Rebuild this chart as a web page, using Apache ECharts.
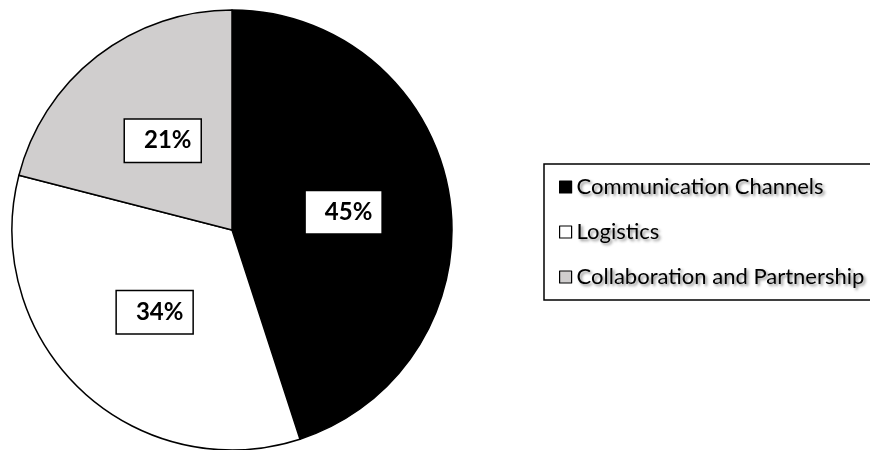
<!DOCTYPE html>
<html>
<head>
<meta charset="utf-8">
<script src="https://cdn.jsdelivr.net/npm/echarts@6/dist/echarts.min.js"></script>
<style>
  html, body { margin: 0; padding: 0; background: #ffffff; }
  #chart { width: 870px; height: 450px; }
</style>
</head>
<body>
<div id="chart"></div>
<script>
// Share of responses per theme (percent)
const categories = ['Communication Channels', 'Logistics', 'Collaboration and Partnership'];
const shares = [45, 34, 21];
const sliceColors = ['#000000', '#ffffff', '#d0cece'];

const chart = echarts.init(document.getElementById('chart'), null, { renderer: 'canvas' });

const pieData = categories.map((name, i) => ({
  name: name,
  value: shares[i],
  itemStyle: { color: sliceColors[i] }
}));

chart.setOption({
  animation: false,
  backgroundColor: '#ffffff',
  legend: {
    orient: 'vertical',
    left: 544,
    top: 164,
    padding: [10, 14, 10, 15],
    itemGap: 19,
    itemWidth: 12,
    itemHeight: 12,
    icon: 'rect',
    borderColor: '#000000',
    borderWidth: 1.5,
    itemStyle: { borderColor: '#000000', borderWidth: 1.2 },
    textStyle: {
      fontFamily: 'Lato, "Open Sans", sans-serif',
      fontSize: 22,
      lineHeight: 26,
      color: '#000000',
      textShadowColor: 'rgba(0,0,0,0.45)',
      textShadowBlur: 3,
      textShadowOffsetX: 2,
      textShadowOffsetY: 2
    },
    data: categories
  },
  series: [{
    type: 'pie',
    center: [232, 230],
    radius: 220,
    startAngle: 90,
    clockwise: true,
    silent: true,
    itemStyle: { borderColor: '#000000', borderWidth: 1.5 },
    label: {
      show: true,
      position: 'inside',
      formatter: '{c}%',
      fontFamily: 'Lato, "Open Sans", sans-serif',
      fontWeight: 'bold',
      fontSize: 24,
      lineHeight: 26,
      color: '#000000',
      backgroundColor: '#ffffff',
      borderColor: '#000000',
      borderWidth: 1.5,
      padding: [8, 9, 8, 19]
    },
    labelLine: { show: false },
    data: pieData
  }]
});
</script>
</body>
</html>
